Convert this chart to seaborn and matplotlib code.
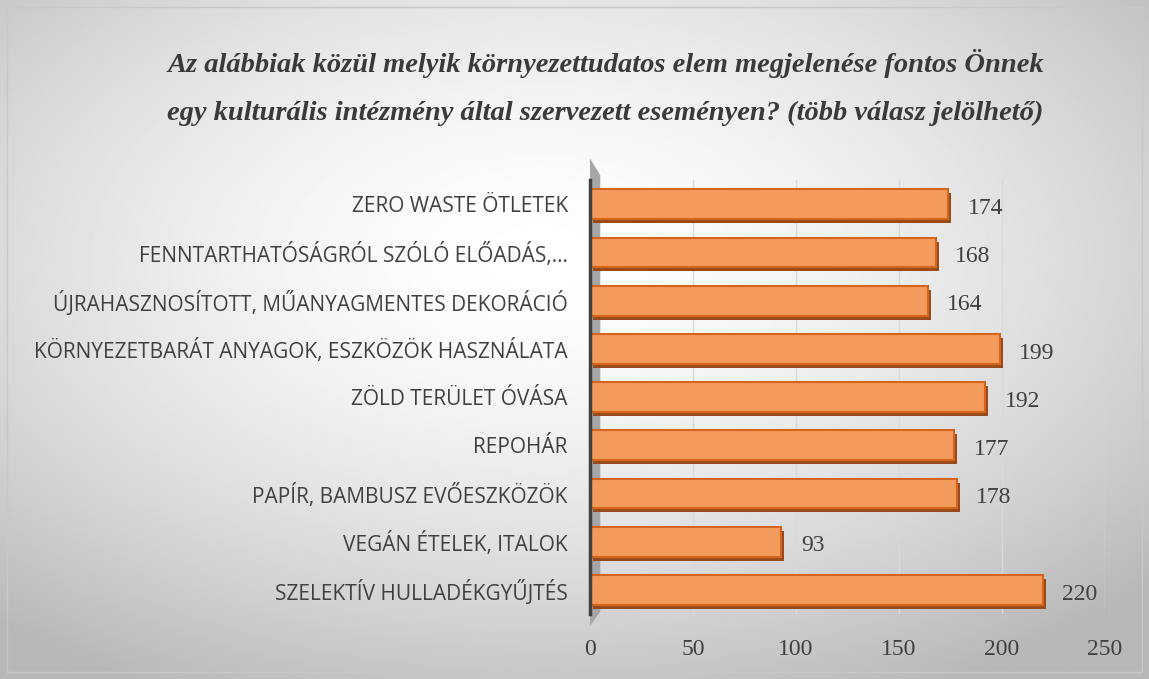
import numpy as np
import pandas as pd
import matplotlib.pyplot as plt
import matplotlib.transforms as mtransforms
from matplotlib.patches import Rectangle, Polygon
import seaborn as sns

# === DATA ===
categories = [
    "ZERO WASTE ÖTLETEK",
    "FENNTARTHATÓSÁGRÓL SZÓLÓ ELŐADÁS,...",
    "ÚJRAHASZNOSÍTOTT, MŰANYAGMENTES DEKORÁCIÓ",
    "KÖRNYEZETBARÁT ANYAGOK, ESZKÖZÖK HASZNÁLATA",
    "ZÖLD TERÜLET ÓVÁSA",
    "REPOHÁR",
    "PAPÍR, BAMBUSZ EVŐESZKÖZÖK",
    "VEGÁN ÉTELEK, ITALOK",
    "SZELEKTÍV HULLADÉKGYŰJTÉS",
]
counts = [174, 168, 164, 199, 192, 177, 178, 93, 220]
x_ticks = [0, 50, 100, 150, 200, 250]
title = ("Az alábbiak közül melyik környezettudatos elem megjelenése fontos Önnek\n"
         "egy kulturális intézmény által szervezett eseményen? (több válasz jelölhető)")

df = pd.DataFrame({"elem": categories, "db": counts})

sns.set_theme(style="white")
plt.rcParams['font.family'] = ['Open Sans', 'DejaVu Sans']

fig = plt.figure(figsize=(11.49, 6.79), dpi=100)

# === BACKGROUND GRADIENT ===
bg = fig.add_axes([0, 0, 1, 1], zorder=-10)
yy, xx = np.mgrid[0:1:300j, 0:1:500j]
r = np.sqrt(((xx - 0.47) / 0.75) ** 2 + ((yy - 0.62) / 0.75) ** 2)
shade = np.clip(1.0 - 0.30 * r ** 1.6, 0.72, 1.0)
bg.imshow(shade, cmap="gray", vmin=0, vmax=1, extent=[0, 1, 0, 1],
          origin="lower", aspect="auto")
bg.set_axis_off()
fig.patches.append(Rectangle((0.006, 0.01), 0.988, 0.98, transform=fig.transFigure,
                             fill=False, edgecolor="#c8c8c8", linewidth=1.0))

# === MAIN CHART ===
ax = fig.add_axes([0.5135, 0.0957, 0.448, 0.639])
ax.patch.set_alpha(0)

sns.barplot(data=df, y="elem", x="db", orient="h", ax=ax, width=0.62,
            color="#F39B5C", edgecolor="#D4651C", linewidth=1.5,
            saturation=1, zorder=3)

# pseudo 3D shadow under each bar
shadow = mtransforms.offset_copy(ax.transData, fig=fig, x=3, y=-4, units="dots")
for p in list(ax.patches):
    ax.add_patch(Rectangle(p.get_xy(), p.get_width(), p.get_height(),
                           transform=shadow, facecolor="#9A4A1A",
                           edgecolor="none", zorder=2))

ax.set_xlim(0, 250)
ax.set_ylim(len(categories) - 0.5, -0.5)
ax.set_xticks(x_ticks)
ax.grid(axis="x", color="#d9d9d9", linewidth=1.0, zorder=0)
ax.set_xlabel("")
ax.set_ylabel("")
for s in ["top", "right", "bottom"]:
    ax.spines[s].set_visible(False)
ax.spines["left"].set_color("#404040")
ax.spines["left"].set_linewidth(2.5)
ax.spines["left"].set_zorder(5)

# gray wall on the left
ax.add_patch(Polygon([[0, -0.95], [0, 8.75], [5, 8.45], [5, -0.6]],
                     closed=True, facecolor="#a6a6a6", edgecolor="none",
                     zorder=1, clip_on=False))

ax.tick_params(axis="y", length=0, pad=16, labelsize=15, labelcolor="#404040")
ax.tick_params(axis="x", length=0, pad=18, labelsize=17, labelcolor="#404040")
for lab in ax.get_xticklabels():
    lab.set_fontfamily("Liberation Serif")

labels = ax.bar_label(ax.containers[0], labels=[str(v) for v in counts], padding=14,
                      fontsize=17, color="#404040", family="Liberation Serif")
for t in labels:
    t.xyann = (14, -3)

fig.text(0.527, 0.871, title, ha="center", va="center", fontsize=20.5,
         fontweight="bold", fontstyle="italic", family="Liberation Serif",
         color="#3a3a3a", linespacing=2.2)

fig.savefig("out.png", dpi=100)
